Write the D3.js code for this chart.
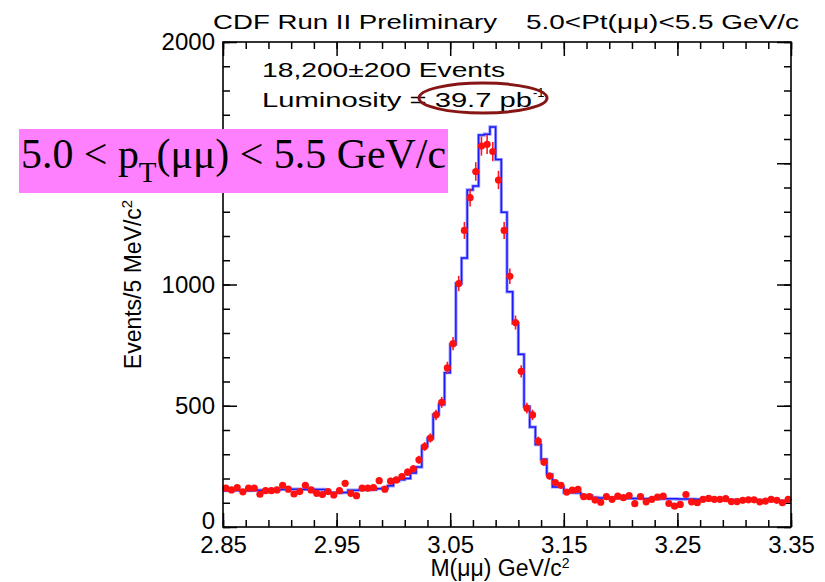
<!DOCTYPE html>
<html lang="en">
<head>
<meta charset="UTF-8">
<title>CDF J/psi mass, 5.0 < pT < 5.5</title>
<script src="https://cdn.jsdelivr.net/npm/d3@7"></script>
<style>
    body { margin: 0; background: #fff; }
    text { font-family: 'Liberation Sans', Arial, sans-serif; fill: #000; }
    .tick text { font-size: 24px; }
    .tick line { stroke: #000; stroke-width: 1.5; }
</style>
</head>
<body>
<svg width="825" height="582"></svg>
<script>
// mass bins: 5 MeV wide, starting at 2.85 GeV
const massLo = 2.85, binW = 0.005;

// data points (events per bin)
const counts = [
    160, 153, 162, 145, 160, 160, 135, 150, 150, 153,
    172, 156, 136, 146, 172, 153, 139, 134, 146, 132,
    150, 180, 139, 129, 160, 160, 162, 191, 156, 189,
    194, 208, 226, 240, 277, 332, 367, 462, 514, 656,
    756, 1004, 1223, 1358, 1466, 1571, 1578, 1548, 1431, 1223,
    1034, 843, 642, 490, 462, 354, 268, 210, 183, 172,
    144, 152, 155, 125, 125, 111, 102, 125, 114, 127,
    121, 130, 96, 125, 104, 114, 123, 127, 97, 86,
    93, 134, 104, 100, 114, 118, 114, 114, 117, 105,
    105, 110, 112, 112, 104, 107, 114, 110, 100, 114
];

// fitted shape drawn as a histogram
const fitHist = [
    150, 150, 151, 150, 150, 151, 152, 152, 153, 153,
    155, 155, 156, 156, 155, 156, 155, 155, 142, 142,
    141, 142, 152, 152, 153, 153, 154, 158, 160, 170,
    189, 195, 200, 223, 247, 333, 366, 463, 505, 636,
    753, 1004, 1109, 1390, 1406, 1616, 1620, 1650, 1515, 1298,
    970, 840, 712, 497, 412, 340, 279, 217, 165, 165,
    142, 142, 141, 131, 130, 122, 120, 120, 119, 119,
    119, 118, 118, 118, 117, 117, 117, 116, 116, 116,
    115, 115, 115, 114, 114, 114, 113, 113, 113, 112,
    112, 112, 111, 111, 110, 110, 109, 109, 108, 108
];

const xTicks = [2.85, 2.95, 3.05, 3.15, 3.25, 3.35];
const yTicks = [0, 500, 1000, 1500, 2000];
const yLabels = ["0", "500", "1000", "", "2000"];   // 1500 sits under the pink box

const svg = d3.select("svg");
const pL = 223, pR = 791, pT = 42, pB = 527;

const x = d3.scaleLinear().domain([2.85, 3.35]).range([pL, pR]);
const y = d3.scaleLinear().domain([0, 2000]).range([pB, pT]);

// minor ticks
const xMinor = d3.range(0, 26).map(i => +(2.85 + i * 0.02).toFixed(2));
const yMinor = d3.range(0, 21).map(i => i * 100);

function noDomain(g) { g.select(".domain").remove(); }

// bottom
svg.append("g").attr("transform", `translate(0,${pB})`)
    .call(d3.axisBottom(x).tickValues(xMinor).tickSizeInner(-7).tickSizeOuter(0).tickFormat(""))
    .call(noDomain);
svg.append("g").attr("class", "x-axis").attr("transform", `translate(0,${pB})`)
    .call(d3.axisBottom(x).tickValues(xTicks).tickSizeInner(-14).tickSizeOuter(0)
        .tickPadding(9).tickFormat(d3.format(".2f")))
    .call(noDomain);
// top
svg.append("g").attr("transform", `translate(0,${pT})`)
    .call(d3.axisTop(x).tickValues(xMinor).tickSizeInner(-7).tickSizeOuter(0).tickFormat(""))
    .call(noDomain);
svg.append("g").attr("transform", `translate(0,${pT})`)
    .call(d3.axisTop(x).tickValues(xTicks).tickSizeInner(-14).tickSizeOuter(0).tickFormat(""))
    .call(noDomain);
// left
svg.append("g").attr("transform", `translate(${pL},0)`)
    .call(d3.axisLeft(y).tickValues(yMinor).tickSizeInner(-7).tickSizeOuter(0).tickFormat(""))
    .call(noDomain);
svg.append("g").attr("class", "y-axis").attr("transform", `translate(${pL},0)`)
    .call(d3.axisLeft(y).tickValues(yTicks).tickSizeInner(-14).tickSizeOuter(0).tickPadding(8)
        .tickFormat((d, i) => yLabels[i]))
    .call(noDomain);
// right
svg.append("g").attr("transform", `translate(${pR},0)`)
    .call(d3.axisRight(y).tickValues(yMinor).tickSizeInner(-7).tickSizeOuter(0).tickFormat(""))
    .call(noDomain);
svg.append("g").attr("transform", `translate(${pR},0)`)
    .call(d3.axisRight(y).tickValues(yTicks).tickSizeInner(-14).tickSizeOuter(0).tickFormat(""))
    .call(noDomain);

svg.selectAll(".tick text").attr("fill", "#000");
// the "0" label sits a little above its tick, as in the original
svg.select(".y-axis").selectAll(".tick text").filter(d => d === 0).attr("dy", "0.05em");

// fit histogram as steps
const edges = fitHist.map((v, i) => [massLo + i * binW, v]);
edges.push([3.35, fitHist[fitHist.length - 1]]);
const stepLine = d3.line().curve(d3.curveStepAfter).x(d => x(d[0])).y(d => y(d[1]));
svg.append("path")
    .datum(edges)
    .attr("fill", "none")
    .attr("stroke", "#9a9aff")
    .attr("stroke-width", 3.2)
    .attr("d", stepLine);
svg.append("path")
    .datum(edges)
    .attr("fill", "none")
    .attr("stroke", "#1a1aff")
    .attr("stroke-width", 1.5)
    .attr("d", stepLine);

// data points with statistical errors
const pts = counts.map((v, i) => ({ m: massLo + (i + 0.5) * binW, v: v }));
svg.append("g").selectAll("line")
    .data(pts).join("line")
    .attr("x1", d => x(d.m)).attr("x2", d => x(d.m))
    .attr("y1", d => y(d.v - Math.sqrt(d.v))).attr("y2", d => y(d.v + Math.sqrt(d.v)))
    .attr("stroke", "#ff1a1a").attr("stroke-width", 1.6);
svg.append("g").selectAll("circle")
    .data(pts).join("circle")
    .attr("cx", d => x(d.m)).attr("cy", d => y(d.v))
    .attr("r", 3.6).attr("fill", "#ff1010");

// frame
svg.append("rect")
    .attr("x", pL).attr("y", pT)
    .attr("width", pR - pL).attr("height", pB - pT)
    .attr("fill", "none").attr("stroke", "#000").attr("stroke-width", 1.6);

// titles
svg.append("text").attr("x", 213).attr("y", 29).attr("font-size", 21)
    .attr("textLength", 284).attr("lengthAdjust", "spacingAndGlyphs")
    .text("CDF Run II Preliminary");
svg.append("text").attr("x", 526).attr("y", 29).attr("font-size", 21)
    .attr("textLength", 273).attr("lengthAdjust", "spacingAndGlyphs")
    .text("5.0<Pt(\u03bc\u03bc)<5.5 GeV/c");

svg.append("text").attr("x", (pL + pR) / 2 - 7).attr("y", 576)
    .attr("text-anchor", "middle").attr("font-size", 23)
    .html('M(\u03bc\u03bc) GeV/c<tspan dy="-8" font-size="14">2</tspan>');

svg.append("text")
    .attr("transform", `translate(141,${(pT + pB) / 2}) rotate(-90)`)
    .attr("text-anchor", "middle").attr("font-size", 23)
    .html('Events/5 MeV/c<tspan dy="-9" font-size="15">2</tspan>');

// annotations
svg.append("text").attr("x", 262).attr("y", 77).attr("font-size", 21)
    .attr("textLength", 243).attr("lengthAdjust", "spacingAndGlyphs")
    .text("18,200\u00b1200 Events");
svg.append("text").attr("x", 262).attr("y", 107).attr("font-size", 21)
    .attr("textLength", 270).attr("lengthAdjust", "spacingAndGlyphs")
    .text("Luminosity = 39.7 pb");
svg.append("text").attr("x", 533).attr("y", 97).attr("font-size", 13)
    .text("-1");
svg.append("ellipse")
    .attr("cx", 483).attr("cy", 98).attr("rx", 64).attr("ry", 15)
    .attr("fill", "none").attr("stroke", "#861616").attr("stroke-width", 3);

// pink label
svg.append("rect").attr("x", 19).attr("y", 129).attr("width", 429).attr("height", 64)
    .attr("fill", "#ff80ff");
svg.append("text").attr("x", 21).attr("y", 168)
    .style("font-family", "'Liberation Serif', 'Times New Roman', serif")
    .attr("font-size", 42)
    .attr("textLength", 425).attr("lengthAdjust", "spacingAndGlyphs")
    .html('5.0 &lt; p<tspan dy="14" font-size="29">T</tspan><tspan dy="-14">(\u03bc\u03bc) &lt; 5.5 GeV/c</tspan>');
</script>
</body>
</html>
